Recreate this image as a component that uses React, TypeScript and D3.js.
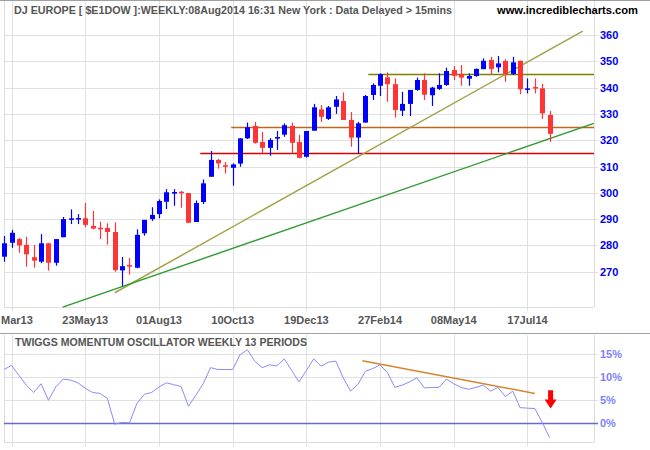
import React from "react";
import * as d3 from "d3";

// ---- Data ----
const startDate = new Date(2013, 2, 7); // first weekly bar
const opens = [275.7,281.0,282.4,280.2,275.5,273.8,280.8,273.4,283.1,289.7,290.0,290.3,287.4,286.7,286.6,285.1,270.5,272.5,271.5,284.6,290.0,291.9,296.6,299.7,300.4,299.9,288.9,296.5,306.1,312.5,310.5,309.5,311.1,320.7,325.4,319.3,317.1,320.6,322.1,325.4,319.3,313.7,323.6,331.7,328.1,332.7,334.9,327.7,321.0,326.7,337.2,340.7,343.9,341.3,331.2,333.8,339.1,342.9,337.1,339.5,341.0,346.7,345.2,343.4,344.4,347.0,350.5,347.7,350.1,345.2,350.2,339.2,340.2,339.7,329.6];
const highs = [283.6,285.9,282.8,283.3,280.2,284.3,281.0,282.4,290.8,293.7,291.9,296.1,293.1,289.0,288.4,288.8,275.6,275.2,286.1,289.7,294.5,297.5,301.4,301.4,300.7,299.9,297.1,305.1,315.9,312.9,311.7,311.2,320.7,326.7,326.9,323.2,320.8,323.5,326.4,326.7,322.0,323.5,333.8,333.4,333.0,336.8,338.2,330.7,327.0,337.2,341.6,345.4,345.8,343.5,338.4,339.1,343.8,345.4,340.3,345.4,347.6,348.2,348.6,345.4,347.3,351.1,351.7,352.0,350.8,351.7,350.2,343.5,343.5,341.4,331.1];
const lows = [273.8,279.1,277.2,271.9,271.5,273.2,270.4,272.3,283.1,288.1,288.1,286.9,286.1,282.4,280.3,270.0,264.6,268.9,271.3,283.7,289.3,290.3,293.8,295.1,294.3,288.6,288.9,295.7,306.1,309.2,307.3,302.7,309.9,320.5,318.7,315.0,314.1,316.3,321.3,315.0,313.1,313.4,323.6,327.0,327.7,330.0,327.7,317.5,314.8,326.7,335.3,336.8,334.6,328.6,329.2,329.2,338.8,335.3,333.0,339.1,340.7,342.9,340.7,340.7,344.1,347.0,345.2,345.8,342.2,344.8,337.5,337.8,337.8,328.1,319.4];
const closes = [280.8,284.8,280.0,276.6,274.2,280.8,273.4,282.4,290.0,290.3,290.4,287.8,286.4,286.4,285.1,270.6,272.1,271.9,284.0,289.7,291.6,296.9,300.2,300.3,300.0,288.6,296.1,303.6,312.5,311.2,309.9,310.8,320.7,324.9,319.0,317.1,320.1,321.2,325.7,319.0,313.3,323.5,332.5,328.9,332.5,335.5,327.7,321.0,326.4,336.8,341.0,345.1,341.3,331.5,333.8,339.1,342.9,337.3,340.0,341.0,346.3,344.5,343.8,344.4,347.1,350.2,347.1,349.2,345.2,349.6,339.4,339.7,340.0,330.2,322.4];
const momentum = [11.7,12.6,10.4,8.3,6.7,8.6,5.0,7.9,9.6,9.4,8.8,7.6,6.7,6.5,5.4,-0.2,0.2,0.1,4.3,6.3,6.7,7.9,8.8,8.4,8.0,3.7,6.1,8.6,12.1,11.7,11.7,11.7,14.9,16.0,13.5,12.1,12.7,12.5,14.0,11.5,9.0,11.5,14.0,12.4,13.3,13.5,9.9,7.0,8.5,11.3,11.9,12.7,11.0,7.8,8.3,9.0,9.9,7.7,7.8,7.8,9.6,8.6,7.8,7.4,7.8,8.3,7.0,7.8,5.8,7.0,3.4,3.3,3.2,0.2,-3.1];

const dateTickIndex = [1, 11, 21, 31, 41, 51, 61, 71];
const priceTicks = [270, 280, 290, 300, 310, 320, 330, 340, 350, 360];
const oscTicks = [0, 5, 10, 15];

// horizontal support/resistance lines: [startIndex, price]
const levelOlive = [49.4, 345];
const levelBrown = [30.8, 325];
const levelRed = [26.6, 315];
// trend lines: [[i0, p0], [i1, p1]]
const trendOlive = [[15.0, 262.0], [78.5, 361.5]];
const trendGreen = [[7.94, 256.5], [80.0, 326.4]];
const oscTrend = [[48.6, 13.6], [72.0, 6.5]];
const arrowAt = [74, 7.2, 5.2, 3.2]; // index, top, head start, tip

const headerText = "DJ EUROPE [ $E1DOW ]:WEEKLY:08Aug2014 16:31 New York : Data Delayed > 15mins";
const siteText = "www.incrediblecharts.com";
const oscTitle = "TWIGGS MOMENTUM OSCILLATOR WEEKLY 13 PERIODS";

export default function App() {
  const W = 650, H = 450;
  const left = 4, right = 594;
  const mainBottom = 307;
  const oscTop = 335, oscBottom = 442.5;

  const x = d3.scaleLinear().domain([0, 74]).range([4.2, 549.6]);
  const y = d3.scaleLinear().domain([270, 360]).range([271.7, 35]);
  const yo = d3.scaleLinear().domain([0, 15]).range([423.3, 354.3]);
  const fmt = d3.timeFormat("%d%b%y");
  const fmtShort = d3.timeFormat("%b%y");
  const dateOf = (i: number) => d3.timeDay.offset(startDate, i * 7);

  const font = "'Liberation Sans', Arial, sans-serif";
  const px = (v: number) => Math.round(v) + 0.5;

  const oscLine = d3.line<number>().x((_, i) => x(i)).y((v) => yo(v));

  const up = "#0000ff", down = "#ff3535";

  return (
    <svg width={W} height={H} style={{ position: "absolute", left: 0, top: 0, background: "#fff" }} fontFamily={font}>
      <rect x={0} y={0} width={W} height={H} fill="#fff" />
      {/* top border */}
      <line x1={0} x2={W} y1={0.5} y2={0.5} stroke="#a0a0a0" />

      {/* main grid */}
      {priceTicks.map((p) => (
        <line key={"hg" + p} x1={left} x2={right + 4} y1={px(y(p))} y2={px(y(p))} stroke="#e0e0e0" />
      ))}
      {dateTickIndex.map((i) => (
        <line key={"vg" + i} x1={px(x(i))} x2={px(x(i))} y1={1} y2={mainBottom + 4} stroke="#e0e0e0" />
      ))}
      <line x1={left + 0.5} x2={left + 0.5} y1={1} y2={mainBottom} stroke="#dcdcdc" />
      <line x1={right + 0.5} x2={right + 0.5} y1={1} y2={mainBottom} stroke="#dcdcdc" />
      <line x1={left} x2={right} y1={mainBottom + 0.5} y2={mainBottom + 0.5} stroke="#dcdcdc" />

      {/* header */}
      <text x={14} y={14} fontSize={11} fontWeight="bold" fill="#555" textLength={438} lengthAdjust="spacingAndGlyphs">{headerText}</text>
      <text x={497} y={14} fontSize={11.5} fontWeight="bold" fill="#000" textLength={141} lengthAdjust="spacingAndGlyphs">{siteText}</text>

      {/* level lines */}
      <line x1={x(levelRed[0])} x2={right} y1={px(y(levelRed[1]))} y2={px(y(levelRed[1]))} stroke="#dd0000" strokeWidth={1.3} />
      <line x1={x(levelBrown[0])} x2={right} y1={px(y(levelBrown[1]))} y2={px(y(levelBrown[1]))} stroke="#c0651a" strokeWidth={1.3} />
      <line x1={x(levelOlive[0])} x2={right} y1={px(y(levelOlive[1]))} y2={px(y(levelOlive[1]))} stroke="#808000" strokeWidth={1.3} />

      {/* trend lines */}
      <line x1={x(trendOlive[0][0])} y1={y(trendOlive[0][1])} x2={x(trendOlive[1][0])} y2={y(trendOlive[1][1])} stroke="#a3a34a" strokeWidth={1.5} />
      <line x1={x(trendGreen[0][0])} y1={y(trendGreen[0][1])} x2={x(trendGreen[1][0])} y2={y(trendGreen[1][1])} stroke="#2f9a2f" strokeWidth={1.4} />

      {/* candles */}
      {opens.map((o, i) => {
        const c = closes[i];
        const col = c >= o ? up : down;
        const cx = Math.round(x(i));
        const top = y(Math.max(o, c));
        const bot = y(Math.min(o, c));
        return (
          <g key={"c" + i}>
            <line x1={cx + 0.5} x2={cx + 0.5} y1={y(highs[i])} y2={y(lows[i])} stroke={col} strokeWidth={1.2} />
            <rect x={cx - 2} y={top} width={5} height={Math.max(1.5, bot - top)} fill={col} />
          </g>
        );
      })}

      {/* y axis labels */}
      {priceTicks.map((p) => (
        <text key={"yl" + p} x={600} y={y(p) + 4} fontSize={11} fontWeight="bold" fill="#0000ee">{p}</text>
      ))}
      {/* x axis labels (first one is cut at the left edge in the original, shown as month only) */}
      {dateTickIndex.map((i, k) =>
        k === 0 ? (
          <text key={"xl" + i} x={1} y={324} fontSize={11} fontWeight="bold" fill="#555" textAnchor="start">{fmtShort(dateOf(i))}</text>
        ) : (
          <text key={"xl" + i} x={x(i)} y={324} fontSize={11} fontWeight="bold" fill="#555" textAnchor="middle">{fmt(dateOf(i))}</text>
        )
      )}

      {/* separator */}
      <line x1={0} x2={W} y1={333.5} y2={333.5} stroke="#a0a0a0" />

      {/* oscillator grid */}
      {oscTicks.filter((t) => t !== 0).map((t) => (
        <line key={"og" + t} x1={left} x2={right + 4} y1={px(yo(t))} y2={px(yo(t))} stroke="#e0e0e0" />
      ))}
      {dateTickIndex.map((i) => (
        <line key={"ovg" + i} x1={px(x(i))} x2={px(x(i))} y1={oscTop} y2={oscBottom + 4} stroke="#e0e0e0" />
      ))}
      <line x1={left + 0.5} x2={left + 0.5} y1={oscTop} y2={oscBottom} stroke="#dcdcdc" />
      <line x1={right + 0.5} x2={right + 0.5} y1={oscTop} y2={oscBottom} stroke="#dcdcdc" />
      <line x1={left} x2={right} y1={oscBottom} y2={oscBottom} stroke="#dcdcdc" />
      <line x1={left} x2={right + 4} y1={px(yo(0))} y2={px(yo(0))} stroke="#6a6acd" strokeWidth={1.3} />

      <text x={15} y={346} fontSize={11} fontWeight="bold" fill="#555" textLength={292} lengthAdjust="spacingAndGlyphs">{oscTitle}</text>

      <path d={oscLine(momentum) || ""} fill="none" stroke="#8a8aff" strokeWidth={1} />
      <line x1={x(oscTrend[0][0])} y1={yo(oscTrend[0][1])} x2={x(oscTrend[1][0])} y2={yo(oscTrend[1][1])} stroke="#d2862e" strokeWidth={1.5} />

      {/* arrow */}
      {(() => {
        const ax = x(arrowAt[0]) + 1;
        const t = yo(arrowAt[1]), h = yo(arrowAt[2]), tip = yo(arrowAt[3]);
        return (
          <path d={`M${ax - 2.5},${t} L${ax + 2.5},${t} L${ax + 2.5},${h} L${ax + 6},${h} L${ax},${tip} L${ax - 6},${h} L${ax - 2.5},${h} Z`} fill="#ff0000" />
        );
      })()}

      {oscTicks.map((t) => (
        <text key={"ol" + t} x={600} y={yo(t) + 4} fontSize={11} fontWeight="bold" fill="#8080ff">{t + "%"}</text>
      ))}
    </svg>
  );
}
